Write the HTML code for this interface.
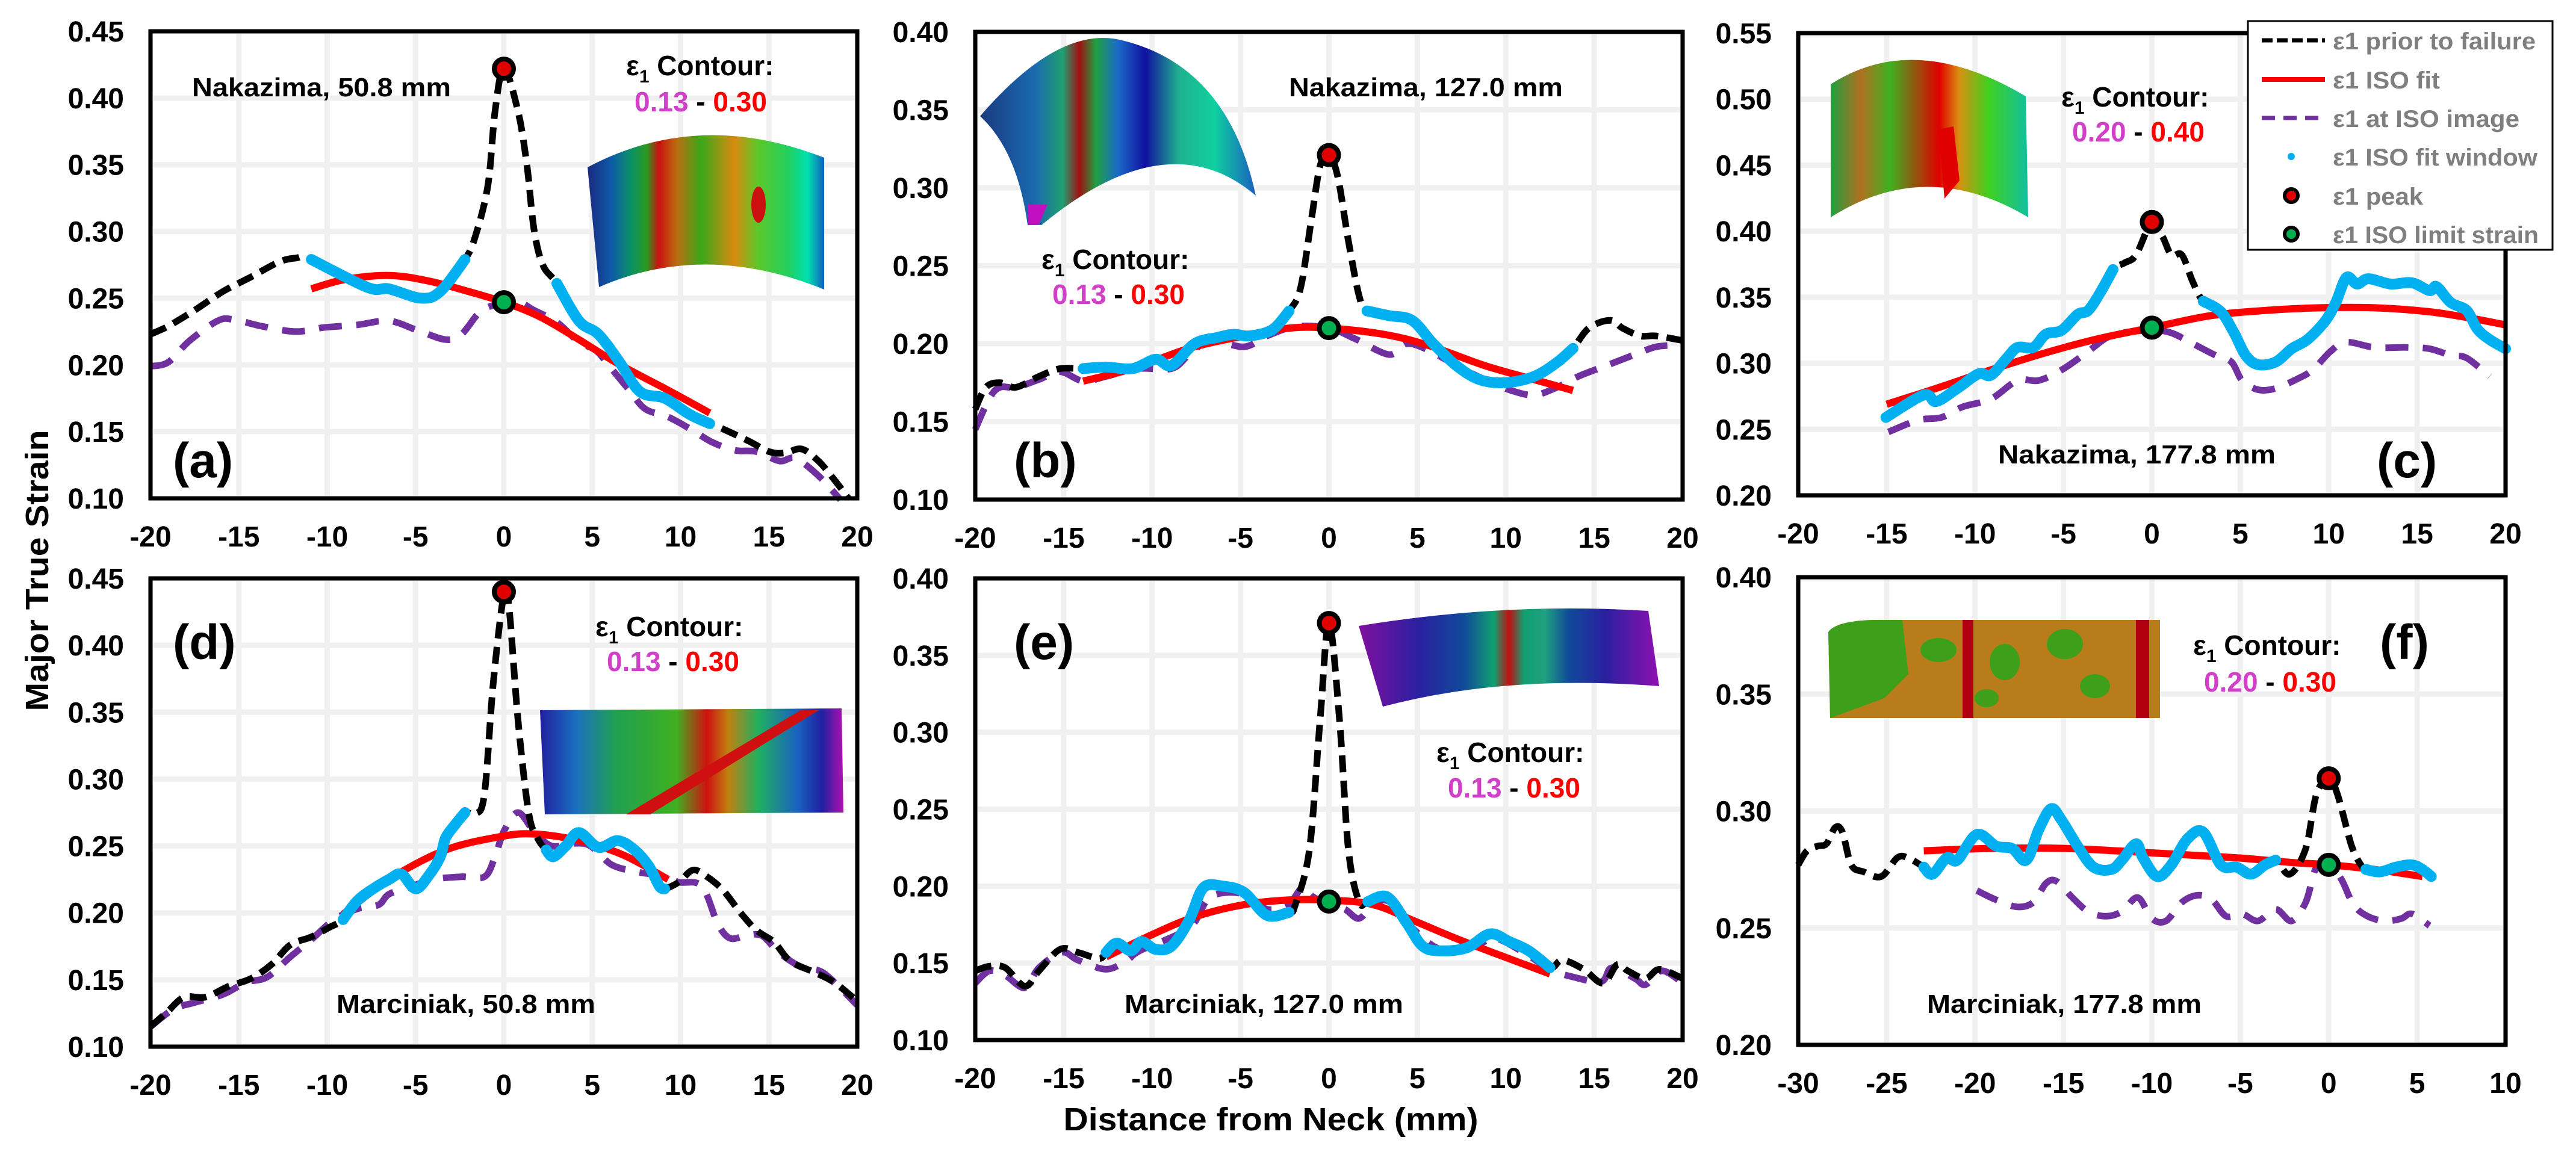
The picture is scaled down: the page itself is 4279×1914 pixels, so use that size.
<!DOCTYPE html>
<html><head><meta charset="utf-8"><style>
html,body{margin:0;padding:0;background:#fff;}
svg{display:block;font-family:"Liberation Sans",Arial,sans-serif;}
</style></head><body>
<svg id="fig" width="4279" height="1914" viewBox="0 0 4279 1914" xmlns="http://www.w3.org/2000/svg">
<defs>
<linearGradient id="gA" x1="0" y1="0" x2="1" y2="0"><stop offset="0" stop-color="#1a2a80"/><stop offset="0.1" stop-color="#0d5aa8"/><stop offset="0.18" stop-color="#0a8f6a"/><stop offset="0.25" stop-color="#2a9a20"/><stop offset="0.3" stop-color="#cc1010"/><stop offset="0.38" stop-color="#b87010"/><stop offset="0.48" stop-color="#3aa81a"/><stop offset="0.62" stop-color="#d88a10"/><stop offset="0.72" stop-color="#5cc82a"/><stop offset="0.85" stop-color="#20d060"/><stop offset="0.93" stop-color="#00e0b0"/><stop offset="1" stop-color="#1060c0"/></linearGradient>
<linearGradient id="gB" x1="0" y1="0" x2="1" y2="0"><stop offset="0" stop-color="#1a3a80"/><stop offset="0.2" stop-color="#1a6ab0"/><stop offset="0.3" stop-color="#20a070"/><stop offset="0.36" stop-color="#a01010"/><stop offset="0.42" stop-color="#20a040"/><stop offset="0.5" stop-color="#1a6ac8"/><stop offset="0.6" stop-color="#1010a0"/><stop offset="0.72" stop-color="#20b090"/><stop offset="0.85" stop-color="#10d0a0"/><stop offset="1" stop-color="#1a60c0"/></linearGradient>
<linearGradient id="gC" x1="0" y1="0" x2="1" y2="0"><stop offset="0" stop-color="#20a040"/><stop offset="0.15" stop-color="#b07020"/><stop offset="0.3" stop-color="#40b020"/><stop offset="0.55" stop-color="#e00000"/><stop offset="0.65" stop-color="#d89010"/><stop offset="0.8" stop-color="#40d020"/><stop offset="1" stop-color="#10c0a0"/></linearGradient>
<linearGradient id="gD" x1="0" y1="0" x2="1" y2="0"><stop offset="0" stop-color="#2020a0"/><stop offset="0.12" stop-color="#1a70c0"/><stop offset="0.25" stop-color="#20a050"/><stop offset="0.45" stop-color="#40b020"/><stop offset="0.55" stop-color="#d01010"/><stop offset="0.62" stop-color="#c08010"/><stop offset="0.72" stop-color="#20b060"/><stop offset="0.85" stop-color="#1a60c0"/><stop offset="0.93" stop-color="#2020a0"/><stop offset="1" stop-color="#b010b0"/></linearGradient>
<linearGradient id="gE" x1="0" y1="0" x2="1" y2="0"><stop offset="0" stop-color="#8010a0"/><stop offset="0.2" stop-color="#2a20a0"/><stop offset="0.35" stop-color="#104a9a"/><stop offset="0.45" stop-color="#10a070"/><stop offset="0.5" stop-color="#c01010"/><stop offset="0.55" stop-color="#10a070"/><stop offset="0.62" stop-color="#20a080"/><stop offset="0.7" stop-color="#104a9a"/><stop offset="0.82" stop-color="#2a20a0"/><stop offset="1" stop-color="#9010b0"/></linearGradient>
</defs>
<g id="grids"></g>
<g id="images">
 <g><path d="M976,278 Q1160,180 1369,262 L1369,481 Q1170,400 995,477 Z" fill="url(#gA)"/><ellipse cx="1260" cy="340" rx="12" ry="30" fill="#cc1010"/></g>
 <g><path d="M1628,193 Q1760,40 1864,67 Q2040,110 2086,325 Q1940,200 1730,374 L1707,374 Q1690,250 1628,193 Z" fill="url(#gB)"/><path d="M1707,340 L1740,340 L1725,374 L1707,374 Z" fill="#c010c0"/></g>
 <g><path d="M3041,140 Q3180,50 3365,160 L3369,361 Q3200,260 3041,361 Z" fill="url(#gC)"/><path d="M3220,215 L3245,210 L3255,300 L3230,330 Z" fill="#e00000"/></g>
 <g><path d="M897,1180 L1398,1177 L1401,1350 L905,1353 Z" fill="url(#gD)"/><path d="M1040,1353 L1330,1180 L1360,1180 L1080,1353 Z" fill="#d01010"/></g>
 <g><path d="M2257,1040 Q2500,1000 2738,1015 L2756,1140 Q2500,1120 2297,1174 Z" fill="url(#gE)"/></g>
 <g><path d="M3037,1050 Q3050,1032 3110,1030 L3588,1030 L3588,1193 L3040,1193 Z" fill="#b87c1a"/><path d="M3037,1050 Q3050,1032 3110,1030 L3160,1030 L3170,1120 L3130,1160 L3040,1193 Z" fill="#3ea01a"/><rect x="3260" y="1030" width="18" height="163" fill="#b00010"/><rect x="3548" y="1030" width="22" height="163" fill="#b00010"/><ellipse cx="3220" cy="1080" rx="30" ry="20" fill="#3ea01a"/><ellipse cx="3330" cy="1100" rx="25" ry="30" fill="#3ea01a"/><ellipse cx="3430" cy="1070" rx="30" ry="25" fill="#3ea01a"/><ellipse cx="3480" cy="1140" rx="25" ry="20" fill="#3ea01a"/><ellipse cx="3300" cy="1160" rx="20" ry="15" fill="#3ea01a"/></g>
</g>
<g id="labels" font-weight="bold">
 <text x="319" y="160" font-size="44" textLength="430" lengthAdjust="spacingAndGlyphs">Nakazima, 50.8 mm</text>
 <text x="2141" y="160" font-size="44" textLength="455" lengthAdjust="spacingAndGlyphs">Nakazima, 127.0 mm</text>
 <text x="3319" y="770" font-size="44" textLength="461" lengthAdjust="spacingAndGlyphs">Nakazima, 177.8 mm</text>
 <text x="559" y="1683" font-size="44" textLength="430" lengthAdjust="spacingAndGlyphs">Marciniak, 50.8 mm</text>
 <text x="1868" y="1683" font-size="44" textLength="463" lengthAdjust="spacingAndGlyphs">Marciniak, 127.0 mm</text>
 <text x="3201" y="1683" font-size="44" textLength="456" lengthAdjust="spacingAndGlyphs">Marciniak, 177.8 mm</text>
 <text x="287" y="793" font-size="82">(a)</text>
 <text x="1684" y="793" font-size="82">(b)</text>
 <text x="3948" y="793" font-size="82">(c)</text>
 <text x="287" y="1095" font-size="82">(d)</text>
 <text x="1684" y="1095" font-size="82">(e)</text>
 <text x="3953" y="1095" font-size="82">(f)</text>
</g>
<g id="contourtext"></g>
<g id="plots"></g>
<g id="frames"></g>
<text x="2111" y="1878" font-size="54" font-weight="bold" text-anchor="middle" textLength="689" lengthAdjust="spacingAndGlyphs">Distance from Neck (mm)</text>
<text transform="translate(80,948) rotate(-90)" font-size="54" font-weight="bold" text-anchor="middle" textLength="467" lengthAdjust="spacingAndGlyphs">Major True Strain</text>
<g id="legend"></g>
</svg>
<script>
// ---------- data ----------
const aBlackX=[-20,-19,-17.5,-15.9,-14.3,-12.75,-11.8,-10.9,-7.7,-6.5,-4.7,-3.6,-2.2,-1.6,-0.9,-0.5,0,0.8,1.3,1.7,2.2,3.0,4.25,5.35,6.5,7.7,9.1,10.5,11.65,12.4,13.85,15,15.9,16.85,17.8,18.7,19.5];
const aBlackY=[.223,.229,.241,.255,.266,.277,.280,.279,.258,.257,.250,.255,.279,.297,.335,.39,.422,.39,.35,.302,.275,.261,.233,.223,.203,.18,.175,.163,.156,.152,.143,.135,.134,.137,.128,.114,.10];
const aPurpleX=[-20,-19,-17.8,-16.2,-15.3,-13.7,-11.8,-10.2,-8.3,-6.5,-4.9,-3.3,-2.4,-1.4,-0.5,0.8,1.7,3.0,4.25,5.2,6.1,7.1,8.0,9.3,10.55,11.8,13.1,14.3,15.6,16.5,17.8,19.05];
const aPurpleY=[.199,.202,.218,.233,.234,.229,.225,.228,.23,.233,.226,.219,.223,.239,.245,.247,.241,.232,.217,.211,.197,.181,.167,.161,.152,.142,.136,.135,.128,.13,.117,.099];
const aRedX=[-10.9,-9,-6.5,-4.3,-2,0,2.05,4.25,6.45,9.3,11.65];
const aRedY=[.257,.264,.267,.263,.255,.247,.236,.219,.201,.181,.164];
const aWindow=[-10.9,-2.2,3.0,11.65];
const aPeak=[0,.422]; const aIso=[0,.247];

const bBlackX=[-20,-19.4,-18.6,-17.7,-16.4,-15.2,-13.9,-12.6,-11.1,-9.8,-8.9,-7.6,-6.3,-5.4,-4.5,-3.2,-2.25,-1.6,-1.0,-0.5,0,0.5,1.1,1.7,2.15,3.4,4.7,5.9,7.2,8.5,10.0,11.6,12.9,13.8,14.7,15.9,16.6,17.6,18.5,20];
const bBlackY=[.158,.172,.175,.172,.179,.184,.184,.185,.184,.19,.186,.2,.204,.206,.205,.209,.221,.236,.279,.314,.321,.307,.266,.231,.221,.218,.215,.2,.186,.177,.175,.179,.188,.197,.21,.215,.21,.205,.205,.202];
const bPurpleX=[-20,-19.2,-18.6,-17.7,-16.4,-15.2,-13.9,-12.6,-10.8,-8.9,-7.9,-6.7,-4.8,-3.5,-1.9,0,1.5,3.4,4.4,5.6,7.2,8.8,10.3,11.6,12.9,14.1,15.7,17.3,18.5,19.8];
const bPurpleY=[.145,.165,.172,.172,.177,.182,.176,.179,.184,.184,.193,.202,.198,.205,.211,.21,.203,.193,.2,.196,.186,.177,.17,.167,.172,.179,.186,.193,.198,.199];
const bRedX=[-13.9,-11.1,-7.9,-4.8,-2.25,0,3.1,5.6,8.8,11.6,13.8];
const bRedY=[.176,.184,.197,.205,.21,.21,.206,.199,.186,.177,.17];
const bWindow=[-13.9,-2.25,2.15,13.8];
const bPeak=[0,.321]; const bIso=[0,.21];

const cBlackX=[-15.04,-12.9,-12.2,-11,-9.8,-9.1,-8.2,-7.6,-6.7,-6,-5.1,-4.2,-3.6,-2.9,-2.2,-1.55,-0.9,0,0.6,1.1,1.7,2.3,2.9,3.9,4.65,5.3,6,7,7.9,8.8,9.8,10.4,11,11.6,12.25,13.5,14.7,15.7,16.1,16.9,17.8,18.4,19.1,20];
const cBlackY=[.259,.276,.271,.281,.292,.291,.304,.312,.312,.322,.325,.337,.34,.354,.371,.376,.382,.407,.396,.382,.382,.362,.347,.339,.323,.306,.299,.301,.311,.318,.332,.346,.365,.36,.364,.36,.361,.355,.358,.346,.34,.326,.318,.311];
const cPurpleX=[-14.9,-13.2,-11.9,-10.7,-9.1,-7.6,-6.4,-5.1,-3.6,-2.6,-1.7,0,1.1,2.3,3.6,4.5,5.1,6,7,8.2,9.1,10.1,11,12.6,14.4,15.7,16.9,17.8,19.1];
const cPurpleY=[.248,.257,.259,.267,.273,.287,.287,.295,.309,.319,.323,.325,.323,.315,.306,.301,.287,.28,.281,.288,.295,.309,.316,.312,.312,.311,.306,.304,.29];
const cRedX=[-15,-12.2,-9.1,-6,-2.9,0,3.3,6.4,9.5,12.6,15.7,18.1,20];
const cRedY=[.269,.281,.295,.308,.319,.327,.336,.34,.342,.342,.339,.334,.329];
const cWindow=[-15.04,-2.2,2.9,20];
const cPeak=[0,.407]; const cIso=[0,.327];

const dBlackX=[-20,-19.05,-18.1,-16.9,-15.6,-14.3,-13.1,-12.1,-10.9,-9.9,-9.1,-8.3,-7.4,-6.5,-5.8,-5,-4.25,-3.6,-3.3,-2.7,-2.2,-1.6,-1.1,-0.6,0,0.3,0.8,1.4,1.9,2.4,2.8,3.5,4.25,5.35,6.45,7.4,8.2,8.8,9.1,9.9,10.7,11.5,12.4,13.4,14.3,15.3,16.2,17.5,18.7,20];
const dBlackY=[.115,.126,.137,.137,.145,.151,.162,.176,.182,.189,.195,.209,.218,.225,.229,.218,.228,.242,.256,.267,.275,.274,.289,.372,.438,.427,.344,.275,.256,.247,.242,.25,.26,.249,.254,.247,.235,.22,.218,.223,.232,.227,.217,.2,.187,.178,.164,.156,.148,.134];
const dPurpleX=[-20,-18.7,-17.5,-15.9,-14.6,-13.4,-12.1,-10.9,-9.6,-8.3,-7.1,-6.5,-5.2,-4,-2.4,-1.1,-0.5,0,0.8,1.7,2.7,4,4.9,6.1,7.4,8.7,9.9,11.2,12.1,12.8,13.7,14.6,15.6,16.9,18.1,20];
const dPurpleY=[.115,.128,.133,.139,.148,.152,.167,.18,.195,.203,.206,.214,.22,.225,.227,.227,.242,.261,.275,.261,.25,.252,.25,.236,.231,.228,.223,.22,.192,.181,.183,.183,.17,.159,.155,.131];
const dRedX=[-9.1,-6.5,-3.3,-0.2,1.7,4.25,6.8,9.3];
const dRedY=[.199,.225,.247,.257,.259,.254,.243,.225];
const dWindow=[-9.1,-2.2,2.4,9.1];
const dPeak=[0,.44]; const dIso=null;

const eBlackX=[-20,-19.2,-18.3,-17.2,-16.4,-15.2,-14.2,-13,-12.6,-12,-11.2,-10.6,-9.8,-8.9,-7.9,-7.1,-6,-4.8,-3.5,-2.25,-1.9,-1.1,-0.5,0,0.6,1.1,1.7,2.2,3.3,4.4,5.3,6.3,7.8,9.1,10.2,11.3,12.5,13.2,14.4,15.5,16.3,16.9,17.9,18.7,20];
const eBlackY=[.145,.148,.147,.135,.145,.159,.157,.153,.157,.163,.158,.164,.159,.161,.178,.199,.2,.196,.181,.183,.188,.224,.308,.371,.308,.224,.19,.19,.193,.176,.161,.158,.16,.169,.164,.158,.147,.152,.146,.137,.149,.145,.14,.146,.14];
const ePurpleX=[-20,-19.2,-18.3,-17.2,-16.4,-15.1,-14.2,-12.6,-11.4,-10.7,-7.9,-6.7,-4.8,-3.5,-2.3,-1.5,-0.9,0,0.9,1.7,2.5,3.4,4.7,6.3,8.2,9.4,11,12.5,13.8,15.4,16,17.3,17.9,18.8,19.8];
const ePurpleY=[.137,.145,.142,.134,.147,.157,.152,.146,.152,.158,.173,.193,.195,.185,.188,.199,.193,.188,.185,.179,.188,.19,.173,.159,.161,.166,.157,.146,.141,.138,.147,.14,.136,.145,.139];
const eRedX=[-12.6,-10.1,-7.6,-4.8,-2.25,0,2.5,4.7,7.2,9.7,12.5];
const eRedY=[.154,.168,.18,.188,.191,.191,.188,.178,.166,.155,.143];
const eWindow=[-12.6,-2.25,2.2,12.5];
const ePeak=[0,.371]; const eIso=[0,.19];

const fBlackX=[-30,-29.5,-28.9,-28.4,-27.9,-27.5,-27,-26.3,-25.3,-24.4,-23.8,-22.9,-22.4,-21.6,-21,-19.9,-18.8,-17.9,-17.1,-16.4,-15.7,-15.1,-14.2,-13.3,-12.3,-11.7,-10.9,-10.5,-9.7,-8.9,-8,-7.1,-6.1,-5.2,-4.4,-3.6,-3,-2.2,-1.3,-0.7,0,0.5,1.3,1.9,2.1,2.9,3.8,4.7,5.3,5.8];
const fBlackY=[.277,.283,.285,.286,.293,.291,.277,.274,.272,.28,.28,.276,.273,.28,.279,.29,.285,.284,.279,.292,.301,.296,.285,.276,.275,.279,.286,.28,.272,.277,.288,.291,.277,.276,.273,.277,.279,.273,.284,.307,.314,.307,.285,.276,.275,.274,.276,.277,.275,.272];
const fPurpleX=[-19.9,-18.8,-17.6,-16.7,-16,-15.4,-14.5,-13.6,-12.6,-11.7,-10.8,-10,-9.2,-8.3,-7.4,-6.6,-5.8,-4.9,-4,-3,-2.1,-1.3,-0.7,0,0.7,1.4,2.2,3.2,4.1,4.7,5.7];
const fPurpleY=[.266,.262,.259,.261,.269,.27,.263,.257,.255,.257,.263,.254,.253,.261,.264,.262,.255,.256,.253,.258,.253,.261,.276,.277,.271,.26,.255,.253,.254,.256,.251];
const fRedX=[-22.9,-19.1,-14.8,-9.8,-5.2,-2.1,0,2.6,5.3];
const fRedY=[.283,.284,.284,.282,.28,.278,.277,.275,.272];
const fWindow=[-22.9,-3,2.1,5.8];
const fPeak=[0,.314]; const fIso=[0,.277];

const yTicksA=[0.10,0.15,0.20,0.25,0.30,0.35,0.40,0.45];
const yTicksB=[0.10,0.15,0.20,0.25,0.30,0.35,0.40];
const yTicksC=[0.20,0.25,0.30,0.35,0.40,0.45,0.50,0.55];
const yTicksF=[0.20,0.25,0.30,0.35,0.40];
const xTicks40=[-20,-15,-10,-5,0,5,10,15,20];
const xTicksF=[-30,-25,-20,-15,-10,-5,0,5,10];

// ---------- drawing ----------
const NS='http://www.w3.org/2000/svg';
function mk(tag,attrs,parent){const e=document.createElementNS(NS,tag);for(const k in attrs)e.setAttribute(k,attrs[k]);parent.appendChild(e);return e;}
function spline(pts){
  if(pts.length<2)return '';
  let d='M'+pts[0][0].toFixed(1)+','+pts[0][1].toFixed(1);
  for(let i=0;i<pts.length-1;i++){
    const p0=pts[Math.max(0,i-1)],p1=pts[i],p2=pts[i+1],p3=pts[Math.min(pts.length-1,i+2)];
    const c1x=p1[0]+(p2[0]-p0[0])/6,c1y=p1[1]+(p2[1]-p0[1])/6,c2x=p2[0]-(p3[0]-p1[0])/6,c2y=p2[1]-(p3[1]-p1[1])/6;
    d+=' C'+c1x.toFixed(1)+','+c1y.toFixed(1)+' '+c2x.toFixed(1)+','+c2y.toFixed(1)+' '+p2[0].toFixed(1)+','+p2[1].toFixed(1);
  }
  return d;
}
const panels=[
 {id:'a',L:250,R:1424,T:52,B:828,x0:-20,x1:20,yt:yTicksA,xt:xTicks40,bx:aBlackX,by:aBlackY,px:aPurpleX,py:aPurpleY,rx:aRedX,ry:aRedY,w:aWindow,pk:aPeak,iso:aIso},
 {id:'b',L:1620,R:2795,T:53,B:830,x0:-20,x1:20,yt:yTicksB,xt:xTicks40,bx:bBlackX,by:bBlackY,px:bPurpleX,py:bPurpleY,rx:bRedX,ry:bRedY,w:bWindow,pk:bPeak,iso:bIso},
 {id:'c',L:2987,R:4162,T:55,B:823,x0:-20,x1:20,yt:yTicksC,xt:xTicks40,bx:cBlackX,by:cBlackY,px:cPurpleX,py:cPurpleY,rx:cRedX,ry:cRedY,w:cWindow,pk:cPeak,iso:cIso},
 {id:'d',L:250,R:1424,T:961,B:1739,x0:-20,x1:20,yt:yTicksA,xt:xTicks40,bx:dBlackX,by:dBlackY,px:dPurpleX,py:dPurpleY,rx:dRedX,ry:dRedY,w:dWindow,pk:dPeak,iso:dIso},
 {id:'e',L:1620,R:2795,T:961,B:1728,x0:-20,x1:20,yt:yTicksB,xt:xTicks40,bx:eBlackX,by:eBlackY,px:ePurpleX,py:ePurpleY,rx:eRedX,ry:eRedY,w:eWindow,pk:ePeak,iso:eIso},
 {id:'f',L:2987,R:4162,T:959,B:1736,x0:-30,x1:10,yt:yTicksF,xt:xTicksF,bx:fBlackX,by:fBlackY,px:fPurpleX,py:fPurpleY,rx:fRedX,ry:fRedY,w:fWindow,pk:fPeak,iso:fIso}
];
const gGrid=document.getElementById('grids'),gPlots=document.getElementById('plots'),gFrames=document.getElementById('frames');
panels.forEach(p=>{
  const y0=p.yt[0],y1=p.yt[p.yt.length-1];
  const sx=x=>p.L+(x-p.x0)/(p.x1-p.x0)*(p.R-p.L);
  const sy=v=>p.B-(v-y0)/(y1-y0)*(p.B-p.T);
  p.xt.forEach(t=>{
    const gl=mk('line',{x1:sx(t),x2:sx(t),y1:p.T,y2:p.B,stroke:'#f0f0f0','stroke-width':9},gGrid);
    
    
    const tl=mk('text',{x:sx(t),y:p.B+80,'font-size':48,'font-weight':'bold','text-anchor':'middle'},gFrames);
    tl.textContent=String(t);
    
    
  });
  p.yt.forEach(t=>{
    const gl=mk('line',{x1:p.L,x2:p.R,y1:sy(t),y2:sy(t),stroke:'#f0f0f0','stroke-width':9},gGrid);
    
    
    const tl=mk('text',{x:p.L-44,y:sy(t)+17,'font-size':48,'font-weight':'bold','text-anchor':'end'},gFrames);
    tl.textContent=t.toFixed(2);
    
    
  });
  const fr=mk('rect',{x:p.L,y:p.T,width:p.R-p.L,height:p.B-p.T,fill:'none',stroke:'#000','stroke-width':7},gFrames);
  
  
  const g=mk('g',{},gPlots);
  
  
  const pur=mk('path',{d:spline(p.px.map((x,i)=>[sx(x),sy(p.py[i])])),fill:'none',stroke:'#7030a0','stroke-width':11,'stroke-dasharray':'38,24'},g);
  
  
  const red=mk('path',{d:spline(p.rx.map((x,i)=>[sx(x),sy(p.ry[i])])),fill:'none',stroke:'#ff0000','stroke-width':12},g);
  
  
  const blk=mk('path',{d:spline(p.bx.map((x,i)=>[sx(x),sy(p.by[i])])),fill:'none',stroke:'#000','stroke-width':11,'stroke-dasharray':'28,14'},g);
  
  
  [[p.w[0],p.w[1]],[p.w[2],p.w[3]]].forEach(([a,b])=>{
    const pts=[];p.bx.forEach((x,i)=>{if(x>=a-1e-9&&x<=b+1e-9)pts.push([sx(x),sy(p.by[i])]);});
    const cy=mk('path',{d:spline(pts),fill:'none',stroke:'#00b0f0','stroke-width':18,'stroke-linecap':'round','stroke-linejoin':'round'},g);
    
    
  });
  const pk=mk('circle',{cx:sx(p.pk[0]),cy:sy(p.pk[1]),r:16,fill:'#e00000',stroke:'#000','stroke-width':8},g);
  
  
  if(p.iso){
    const im=mk('circle',{cx:sx(p.iso[0]),cy:sy(p.iso[1]),r:16,fill:'#00b050',stroke:'#000','stroke-width':8},g);
    
    
  }
});

// contour annotations
const gCT=document.getElementById('contourtext');
const ctPos=[[1040,125,1054,185,'0.13','0.30'],[1730,447,1748,505,'0.13','0.30'],[3424,177,3442,235,'0.20','0.40'],[989,1057,1008,1115,'0.13','0.30'],[2386,1266,2405,1325,'0.13','0.30'],[3643,1088,3661,1149,'0.20','0.30']];
ctPos.forEach(c=>{
  const t=mk('text',{x:c[0],y:c[1],'font-size':46,'font-weight':'bold'},gCT);
  
  
  t.innerHTML='ε<tspan dy="12" font-size="30">1</tspan><tspan dy="-12"> Contour:</tspan>';
  const v=mk('text',{x:c[2],y:c[3],'font-size':46,'font-weight':'bold'},gCT);
  
  
  v.innerHTML='<tspan fill="#d040c8">'+c[4]+'</tspan> - <tspan fill="#ff0000">'+c[5]+'</tspan>';
});

// legend
const lg=document.getElementById('legend');
mk('rect',{x:3734,y:35,width:506,height:380,fill:'#fff',stroke:'#000','stroke-width':3},lg);
const legNames=['ε1 prior to failure','ε1 ISO fit','ε1 at ISO image','ε1 ISO fit window','ε1 peak','ε1 ISO limit strain'];
const legW=[337,178,310,340,150,342];
const legY=[67,132,196,260,325,389];
legNames.forEach((n,i)=>{
  const y=legY[i];
  if(i===0)mk('line',{x1:3757,x2:3862,y1:y,y2:y,stroke:'#000','stroke-width':7,'stroke-dasharray':'18,7'},lg);
  if(i===1)mk('line',{x1:3757,x2:3862,y1:y,y2:y,stroke:'#ff0000','stroke-width':8},lg);
  if(i===2)mk('line',{x1:3757,x2:3862,y1:y,y2:y,stroke:'#7030a0','stroke-width':7,'stroke-dasharray':'22,14'},lg);
  if(i===3)mk('circle',{cx:3806,cy:y,r:6,fill:'#00b0f0'},lg);
  if(i===4)mk('circle',{cx:3806,cy:y,r:11,fill:'#e00000',stroke:'#000','stroke-width':6},lg);
  if(i===5)mk('circle',{cx:3806,cy:y,r:11,fill:'#00b050',stroke:'#000','stroke-width':6},lg);
  const t=mk('text',{x:3875,y:y+15,'font-size':40,'font-weight':'bold',fill:'#7f7f7f',textLength:legW[i],lengthAdjust:'spacingAndGlyphs'},lg);
  t.textContent=n;
  
  
});
</script>
</body></html>
